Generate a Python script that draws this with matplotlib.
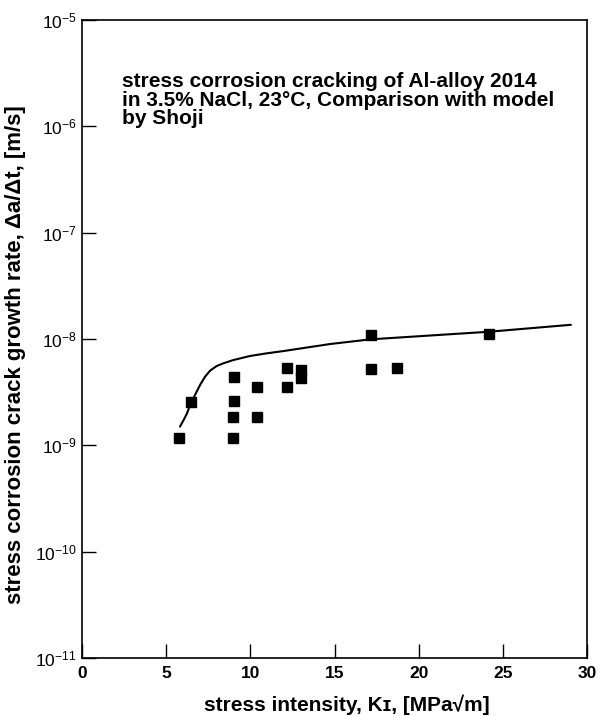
import matplotlib
matplotlib.use("Agg")
import matplotlib.pyplot as plt
from matplotlib.ticker import FixedLocator, LogFormatterMathtext, NullLocator

plt.rcParams['font.family'] = ['Liberation Sans', 'DejaVu Sans']
plt.rcParams['mathtext.fontset'] = 'custom'
plt.rcParams['mathtext.rm'] = 'Liberation Sans:bold'
plt.rcParams['mathtext.bf'] = 'Liberation Sans:bold'

# Measured crack growth rates, Al-alloy 2014 in 3.5% NaCl
k_meas = [5.78, 6.46, 9.03, 9.03, 8.99, 8.99, 10.42, 10.42, 12.16, 12.16,
          12.99, 12.99, 17.15, 18.70, 17.15, 24.17]
rate_meas = [1.16e-9, 2.57e-9, 4.42e-9, 2.61e-9, 1.86e-9, 1.18e-9, 3.52e-9, 1.84e-9,
             5.30e-9, 3.56e-9, 5.10e-9, 4.26e-9, 5.19e-9, 5.30e-9, 1.09e-8, 1.11e-8]

# Shoji model curve
k_model = [5.82, 6.02, 6.22, 6.46, 6.71, 7.01, 7.31, 7.61, 8.00, 8.40, 8.99,
           9.98, 10.97, 11.96, 14.74, 17.15, 24.17, 29.04]
rate_model = [1.50e-9, 1.71e-9, 1.97e-9, 2.48e-9, 2.97e-9, 3.69e-9, 4.42e-9,
              5.04e-9, 5.57e-9, 5.91e-9, 6.34e-9, 6.92e-9, 7.33e-9, 7.70e-9,
              8.97e-9, 9.93e-9, 1.17e-8, 1.36e-8]

x_ticks = [0, 5, 10, 15, 20, 25, 30]
y_ticks = [1e-11, 1e-10, 1e-9, 1e-8, 1e-7, 1e-6, 1e-5]

fig = plt.figure(figsize=(6.02, 7.16), dpi=100)
ax = fig.add_axes([82 / 602, 1 - 658 / 716, (587 - 82) / 602, (658 - 20) / 716])

ax.plot(k_model, rate_model, color='black', lw=1.5, zorder=2,
        solid_joinstyle='round', solid_capstyle='round')
ax.plot(k_meas, rate_meas, linestyle='none', marker='s', markersize=7.5,
        color='black', zorder=3)

ax.set_yscale('log')
ax.set_xlim(0, 30)
ax.set_ylim(1e-11, 1e-5)
ax.xaxis.set_major_locator(FixedLocator(x_ticks))
ax.yaxis.set_major_locator(FixedLocator(y_ticks))
ax.yaxis.set_minor_locator(NullLocator())
ax.yaxis.set_major_formatter(LogFormatterMathtext())

ax.tick_params(axis='both', which='major', direction='in', length=10, width=1.0,
               color='black', pad=6)
ax.tick_params(axis='x', labelsize=12.5)
ax.tick_params(axis='y', labelsize=12.5, pad=4)
for lbl in ax.get_xticklabels():
    lbl.set_fontweight('bold')
for s in ax.spines.values():
    s.set_linewidth(1.2)

ax.set_xlabel('stress intensity, K\u026a, [MPa\u221am]', fontsize=15,
              fontweight='bold')
ax.xaxis.set_label_coords(0.525, -0.058)
ax.set_ylabel('stress corrosion crack growth rate, \u0394a/\u0394t, [m/s]',
              fontsize=16, fontweight='bold')
ax.yaxis.set_label_coords(-0.11, 0.475)

ax.text(0.08, 0.918,
        'stress corrosion cracking of Al-alloy 2014\n'
        'in 3.5% NaCl, 23\u00b0C, Comparison with model\n'
        'by Shoji',
        transform=ax.transAxes, fontsize=15, fontweight='bold',
        va='top', ha='left', linespacing=0.95)

fig.savefig('out.png', dpi=100)
